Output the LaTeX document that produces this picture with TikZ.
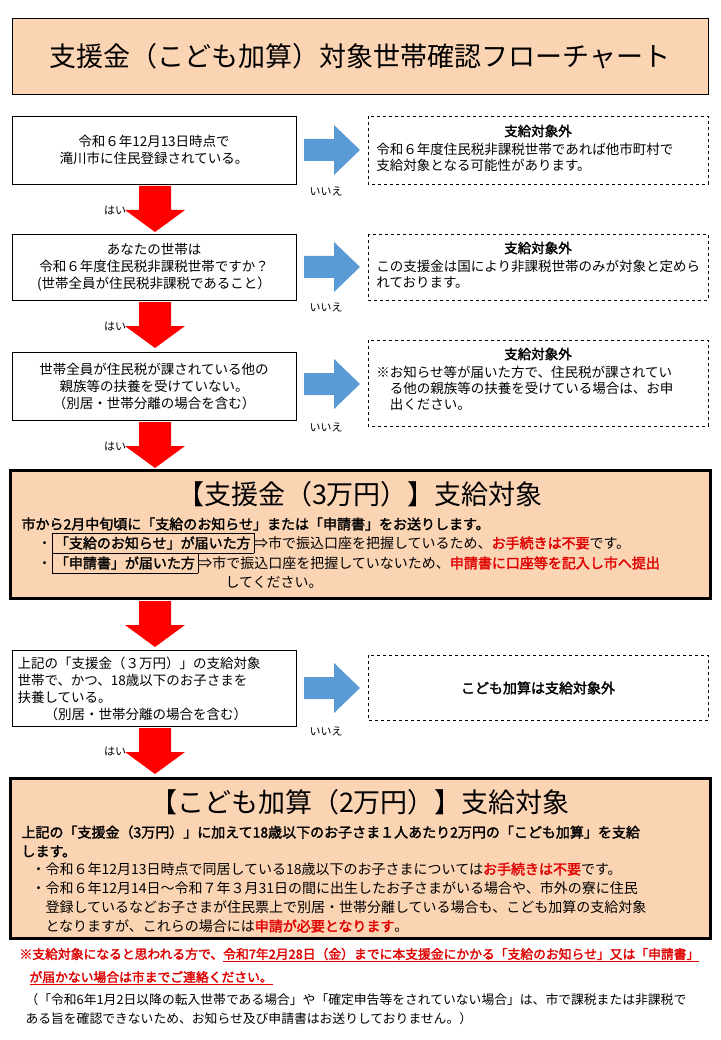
\documentclass[tikz,border=0pt]{standalone}
\usepackage{fontspec}
\setmainfont{Noto Sans CJK JP}
\newfontfamily\boldjp[FakeBold=2]{Noto Sans CJK JP}
\usetikzlibrary{positioning}
\definecolor{peach}{HTML}{FBD4B4}
\definecolor{bluearr}{HTML}{5B9BD5}
\definecolor{redtxt}{HTML}{E00000}
\tikzset{
  qbox/.style={draw, thick, align=center, font=\fontsize{13.5}{17}\selectfont, inner sep=4pt},
  outbox/.style={draw, dashed, thick, align=left, font=\fontsize{13.5}{16}\selectfont, inner sep=4pt},
  bigbox/.style={draw, line width=3pt, fill=peach},
  lbl/.style={font=\fontsize{11}{13}\selectfont},
}
\newcommand\hai[2]{% x, y top
  \fill[red] (#1-16,#2) -- (#1+16,#2) -- (#1+16,#2+24) -- (#1+30,#2+24) -- (#1,#2+46)
    -- (#1-30,#2+24) -- (#1-16,#2+24) -- cycle;
}
\newcommand\iie[2]{% x left, y mid
  \fill[bluearr] (#1,#2-11) -- (#1+30,#2-11) -- (#1+30,#2-25) -- (#1+56,#2) -- (#1+30,#2+25)
    -- (#1+30,#2+11) -- (#1,#2+11) -- cycle;
}
\begin{document}
\begin{tikzpicture}[x=1pt, y=-1pt]
\useasboundingbox (0,0) rectangle (720,1040);
\fill[white] (0,0) rectangle (720,1040);
% title
\draw[thick, fill=peach] (12,18) rectangle (708,94);
\node[font=\fontsize{27}{32}\selectfont] (title) at (360,56) {支援金（こども加算）対象世帯確認フローチャート};
% row 1
\draw[thick] (12,116) rectangle (296,184);
\node[qbox, draw=none] (q1) at (154,150) {令和６年12月13日時点で\\滝川市に住民登録されている。};
\iie{304}{150}
\node[lbl] (n1) at (326,191) {いいえ};
\draw[thick, dashed] (368,116) rectangle (708,184);
\node[font=\fontsize{13.5}{16}\selectfont\boldjp] (o1t) at (538,131) {支給対象外};
\node[outbox, draw=none, anchor=north west] (o1) at (372,139) {令和６年度住民税非課税世帯であれば他市町村で\\支給対象となる可能性があります。};
\hai{155}{186}
\node[lbl] (y1) at (115,210) {はい};
% row 2
\draw[thick] (12,234) rectangle (296,300);
\node[qbox, draw=none] (q2) at (154,267) {あなたの世帯は\\令和６年度住民税非課税世帯ですか？\\(世帯全員が住民税非課税であること）};
\iie{304}{267}
\node[lbl] (n2) at (326,307) {いいえ};
\draw[thick, dashed] (368,234) rectangle (708,300);
\node[font=\fontsize{13.5}{16}\selectfont\boldjp] (o2t) at (538,248) {支給対象外};
\node[outbox, draw=none, anchor=north west] (o2) at (372,256) {この支援金は国により非課税世帯のみが対象と定めら\\れております。};
\hai{155}{302}
\node[lbl] (y2) at (115,326) {はい};
% row 3
\draw[thick] (12,352) rectangle (296,420);
\node[qbox, draw=none] (q3) at (154,386) {世帯全員が住民税が課されている他の\\親族等の扶養を受けていない。\\（別居・世帯分離の場合を含む）};
\iie{304}{384}
\node[lbl] (n3) at (326,427) {いいえ};
\draw[thick, dashed] (368,340) rectangle (708,426);
\node[font=\fontsize{13.5}{16}\selectfont\boldjp] (o3t) at (538,354) {支給対象外};
\node[outbox, draw=none, anchor=north west] (o3) at (372,362) {※お知らせ等が届いた方で、住民税が課されてい\\\hspace{1em}る他の親族等の扶養を受けている場合は、お申\\\hspace{1em}出ください。};
\hai{155}{422}
\node[lbl] (y3) at (115,446) {はい};
% target 1
\draw[bigbox] (10,470) rectangle (710,598);
\node[font=\fontsize{27}{30}\selectfont] (t1) at (360,494) {【支援金（3万円）】支給対象};
\node[anchor=west, font=\fontsize{14}{16}\selectfont\boldjp] (t1a) at (18,524) {市から2月中旬頃に「支給のお知らせ」または「申請書」をお送りします。};
\node[anchor=west, font=\fontsize{14}{16}\selectfont] (t1b) at (34,543) {・\fbox{\boldjp「支給のお知らせ」が届いた方}⇒市で振込口座を把握しているため、\textcolor{redtxt}{\boldjp お手続きは不要}です。};
\node[anchor=west, font=\fontsize{14}{16}\selectfont] (t1c) at (34,563) {・\fbox{\boldjp「申請書」が届いた方}⇒市で振込口座を把握していないため、\textcolor{redtxt}{\boldjp 申請書に口座等を記入し市へ提出}};
\node[anchor=west, font=\fontsize{14}{16}\selectfont] (t1d) at (222,582) {してください。};
\hai{155}{601}
% row 4
\draw[thick] (12,650) rectangle (296,726);
\node[anchor=north west, align=left, font=\fontsize{13.5}{17}\selectfont] (q4) at (14,653) {上記の「支援金（３万円）」の支給対象\\世帯で、かつ、18歳以下のお子さまを\\扶養している。\\\hspace{2em}（別居・世帯分離の場合を含む）};
\iie{304}{688}
\node[lbl] (n4) at (326,731) {いいえ};
\draw[thick, dashed] (368,655) rectangle (708,720);
\node[font=\fontsize{14}{16}\selectfont\boldjp] (o4) at (538,688) {こども加算は支給対象外};
\hai{155}{728}
\node[lbl] (y4) at (115,751) {はい};
% target 2
\draw[bigbox] (10,778) rectangle (710,938);
\node[font=\fontsize{27}{30}\selectfont] (t2) at (360,802) {【こども加算（2万円）】支給対象};
\node[anchor=north west, align=left, font=\fontsize{14}{19}\selectfont\boldjp] (t2a) at (18,822) {上記の「支援金（3万円）」に加えて18歳以下のお子さま１人あたり2万円の「こども加算」を支給\\します。};
\node[anchor=north west, align=left, font=\fontsize{14}{19}\selectfont] (t2b) at (28,859) {・令和６年12月13日時点で同居している18歳以下のお子さまについては\textcolor{redtxt}{\boldjp お手続きは不要}です。\\・令和６年12月14日～令和７年３月31日の間に出生したお子さまがいる場合や、市外の寮に住民\\\hspace{1em}登録しているなどお子さまが住民票上で別居・世帯分離している場合も、こども加算の支給対象\\\hspace{1em}となりますが、これらの場合には\textcolor{redtxt}{\boldjp 申請が必要となります}。};
% notes
\node[anchor=west, text=redtxt, font=\fontsize{12.8}{15}\selectfont\boldjp] (r1) at (16,955) {※支給対象になると思われる方で、\underline{令和7年2月28日（金）までに本支援金にかかる「支給のお知らせ」又は「申請書」}};
\node[anchor=west, text=redtxt, font=\fontsize{12.8}{15}\selectfont\boldjp] (r2) at (26,978) {\underline{が届かない場合は市までご連絡ください。}};
\node[anchor=north west, align=left, font=\fontsize{12.8}{19}\selectfont] (b1) at (22,990) {（「令和6年1月2日以降の転入世帯である場合」や「確定申告等をされていない場合」は、市で課税または非課税で\\ある旨を確認できないため、お知らせ及び申請書はお送りしておりません。）};
\end{tikzpicture}
\end{document}
